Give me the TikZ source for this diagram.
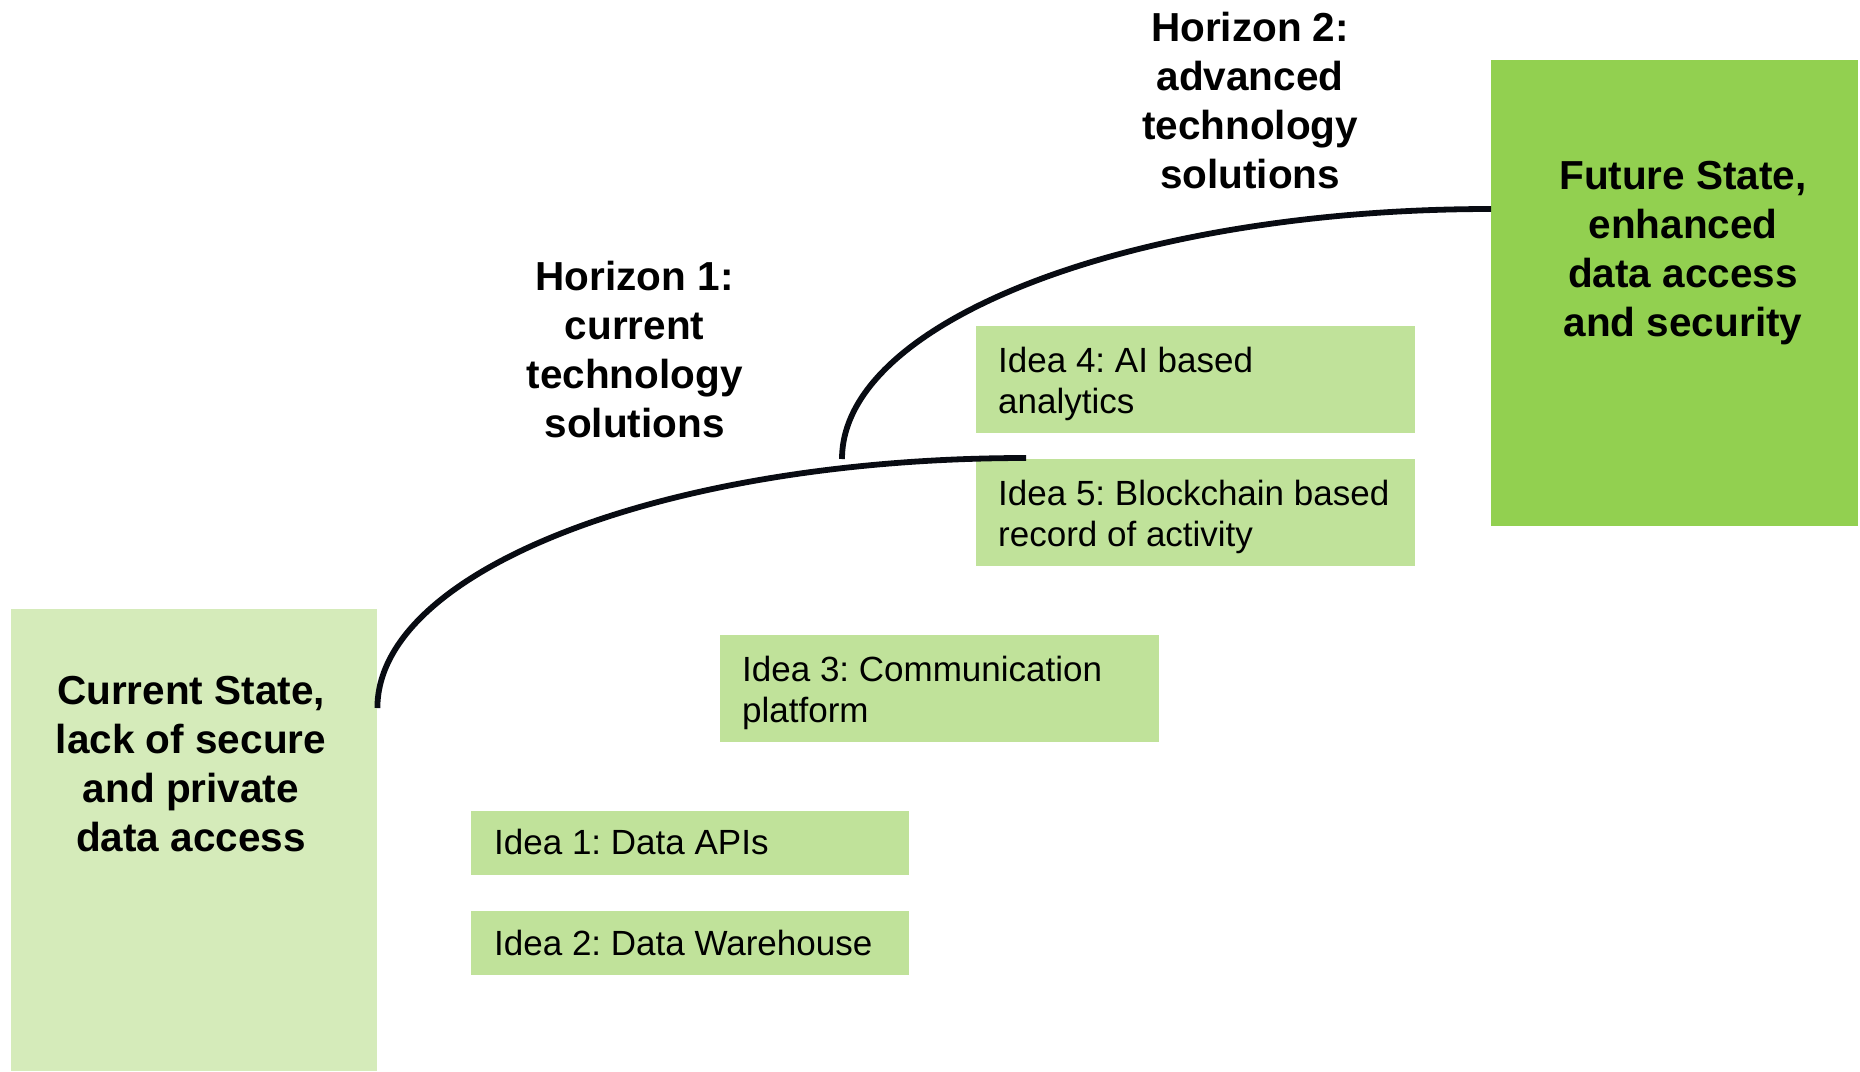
\documentclass[tikz,border=0pt]{standalone}
\usepackage{fontspec}
\setmainfont{Liberation Sans}
\frenchspacing
\definecolor{curgreen}{HTML}{D5EBBA}
\definecolor{ideagreen}{HTML}{C0E29A}
\definecolor{futgreen}{HTML}{92D050}
\definecolor{linecol}{HTML}{080B12}
\begin{document}
\begin{tikzpicture}[x=1pt,y=-1pt,
  statebox/.style={fill=#1, draw=none, inner sep=0, anchor=north west, minimum width=366.3pt},
  ideabox/.style={fill=ideagreen, draw=none, inner sep=0, anchor=north west, minimum width=438.5pt, minimum height=#1},
  boldtxt/.style={font=\fontsize{40.5}{49}\selectfont\bfseries, align=center, inner sep=0, anchor=base},
  ideatxt/.style={font=\fontsize{35}{41}\selectfont, align=left, inner sep=0, anchor=base west},
  horizon/.style={line width=5.8pt, draw=linecol}]
\useasboundingbox (0,0) rectangle (1860,1071);
% state boxes
\node[statebox=curgreen, minimum height=462pt] (cur) at (10.7,609) {};
\node[statebox=futgreen, minimum height=466pt] (fut) at (1491,60) {};
% idea boxes
\node[ideabox=64pt] (i1) at (470.6,811) {};
\node[ideabox=64pt] (i2) at (470.6,911) {};
\node[ideabox=106.5pt] (i3) at (720,635) {};
\node[ideabox=106.5pt] (i4) at (976,326) {};
\node[ideabox=106.5pt] (i5) at (976,459) {};
% idea texts (anchor = baseline of last line)
\node[ideatxt] (t1) at (494,854) {Idea 1: Data APIs};
\node[ideatxt] (t2) at (494,955) {Idea 2: Data Warehouse};
\node[ideatxt] (t3) at (742,722) {Idea 3: Communication\\platform};
\node[ideatxt] (t4) at (998,413) {Idea 4: AI based\\analytics};
\node[ideatxt] (t5) at (998,546) {Idea 5: Blockchain based\\record of activity};
% bold texts (anchor = baseline of last line)
\node[boldtxt] (curtxt) at (191,851) {Current State,\\lack of secure\\and private\\data access};
\node[boldtxt] (futtxt) at (1683,336) {Future State,\\enhanced\\data access\\and security};
\node[boldtxt] (hz1) at (634.6,437) {Horizon 1:\\current\\technology\\solutions};
\node[boldtxt] (hz2) at (1250,188) {Horizon 2:\\advanced\\technology\\solutions};
% curves
\coordinate (h1s) at ([yshift=-99pt]cur.north east);
\coordinate (h1e) at (1026,458);
\coordinate (h2s) at (842,459);
\coordinate (h2e) at ([yshift=-149pt]fut.north west);
\draw[horizon] (h1s) .. controls +(0,-138.6) and +(-358.4,0) .. (h1e);
\draw[horizon] (h2s) .. controls +(0,-138.1) and +(-358.4,0) .. (h2e);
\end{tikzpicture}
\end{document}
